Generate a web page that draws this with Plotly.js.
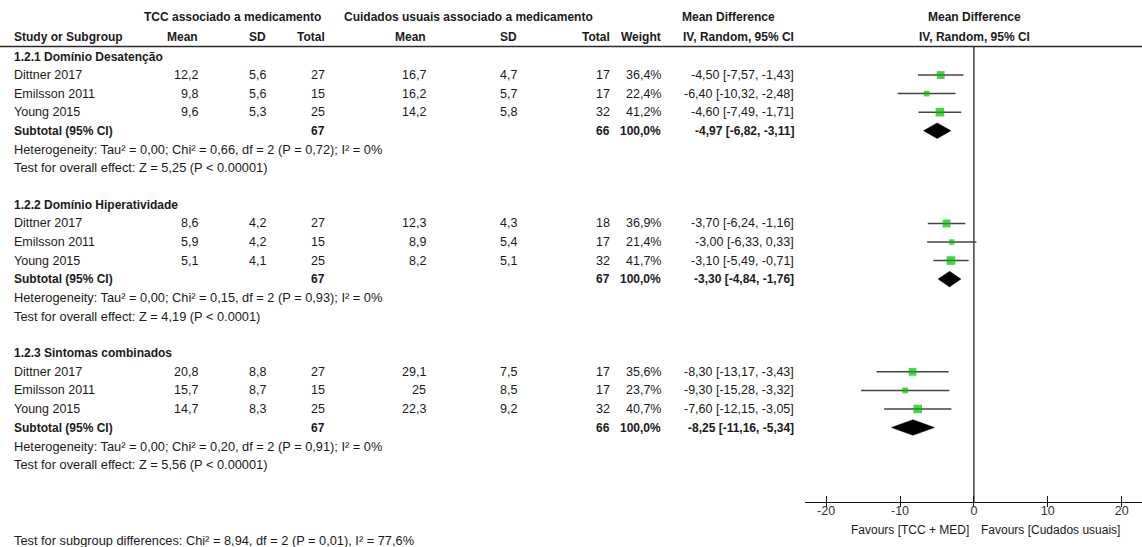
<!DOCTYPE html>
<html>
<head>
<meta charset="utf-8">
<script src="https://cdn.plot.ly/plotly-3.0.1.min.js"></script>
<style>html,body{margin:0;padding:0;background:#fff;}#chart{width:1142px;height:547px;}</style>
</head>
<body>
<div id="chart"></div>
<script>
// ---------- DATA ----------
const groupNames = ["1.2.1 Domínio Desatenção", "1.2.2 Domínio Hiperatividade", "1.2.3 Sintomas combinados"];
const studyNames = ["Dittner 2017", "Emilsson 2011", "Young 2015"];
const tccMean = [[12.2, 9.8, 9.6], [8.6, 5.9, 5.1], [20.8, 15.7, 14.7]];
const tccSD   = [[5.6, 5.6, 5.3], [4.2, 4.2, 4.1], [8.8, 8.7, 8.3]];
const tccN    = [[27, 15, 25], [27, 15, 25], [27, 15, 25]];
const cuMean  = [[16.7, 16.2, 14.2], [12.3, 8.9, 8.2], [29.1, 25, 22.3]];
const cuSD    = [[4.7, 5.7, 5.8], [4.3, 5.4, 5.1], [7.5, 8.5, 9.2]];
const cuN     = [[17, 17, 32], [18, 17, 32], [17, 17, 32]];
const weights = [[36.4, 22.4, 41.2], [36.9, 21.4, 41.7], [35.6, 23.7, 40.7]];
const mdVal   = [[-4.50, -6.40, -4.60], [-3.70, -3.00, -3.10], [-8.30, -9.30, -7.60]];
const mdLo    = [[-7.57, -10.32, -7.49], [-6.24, -6.33, -5.49], [-13.17, -15.28, -12.15]];
const mdHi    = [[-1.43, -2.48, -1.71], [-1.16, 0.33, -0.71], [-3.43, -3.32, -3.05]];
const subTccN = [67, 67, 67];
const subCuN  = [66, 67, 66];
const subMd   = [-4.97, -3.30, -8.25];
const subLo   = [-6.82, -4.84, -11.16];
const subHi   = [-3.11, -1.76, -5.34];
const hetTau2 = [0.00, 0.00, 0.00];
const hetChi2 = [0.66, 0.15, 0.20];
const hetDf   = [2, 2, 2];
const hetP    = [0.72, 0.93, 0.91];
const hetI2   = [0, 0, 0];
const zStat   = [5.25, 4.19, 5.56];
const zP      = ["< 0.00001", "< 0.0001", "< 0.00001"];
const subgroupTest = {chi2: 8.94, df: 2, p: 0.01, i2: 77.6};
const tickValues = [-20, -10, 0, 10, 20];
const tickLabels = ["-20", "-10", "0", "10", "20"];
const favoursLeft = "Favours [TCC + MED]";
const favoursRight = "Favours [Cudados usuais]";

// ---------- LAYOUT HELPERS ----------
const W = 1142, H = 547;
const ROW0 = 56.5, PITCH = 18.55, GROUP_ROWS = 8;
const pxToRow = p => (p - ROW0) / PITCH;
const xp = px => px / W;
const fmtDec = (v, d) => v.toFixed(d).replace('.', ',');
const fmtNum = v => String(v).replace('.', ',');
const FONT = "Liberation Sans, Arial, sans-serif";
const TXT = "#1a1a1a";

const annotations = [];
function ann(text, xpx, row, anchor, opts) {
  opts = opts || {};
  annotations.push({
    text: opts.bold ? "<b>" + text + "</b>" : text,
    x: xp(xpx), xref: "paper", y: row, yref: "y",
    xanchor: anchor, yanchor: "middle", showarrow: false, borderpad: 0,
    font: {family: FONT, size: opts.size || (opts.bold ? 12 : 12.5), color: opts.color || TXT}
  });
}

// column right edges (px)
const COL = {name: 13, tMean: 199, tSD: 267, tN: 326, cMean: 427, cSD: 518, cN: 611, wt: 662, ci: 795};

// header
const hr1 = pxToRow(17), hr2 = pxToRow(36.5);
ann("TCC associado a medicamento", 232.5, hr1, "center", {bold: true});
ann("Cuidados usuais associado a medicamento", 468, hr1, "center", {bold: true});
ann("Mean Difference", 728.5, hr1, "center", {bold: true});
ann("Mean Difference", 974.5, hr1, "center", {bold: true});
ann("Study or Subgroup", COL.name, hr2, "left", {bold: true});
ann("Mean", COL.tMean, hr2, "right", {bold: true});
ann("SD", COL.tSD, hr2, "right", {bold: true});
ann("Total", COL.tN, hr2, "right", {bold: true});
ann("Mean", COL.cMean, hr2, "right", {bold: true});
ann("SD", COL.cSD, hr2, "right", {bold: true});
ann("Total", COL.cN, hr2, "right", {bold: true});
ann("Weight", COL.wt, hr2, "right", {bold: true});
ann("IV, Random, 95% CI", COL.ci, hr2, "right", {bold: true});
ann("IV, Random, 95% CI", 974.5, hr2, "center", {bold: true});

const ciX = [], ciY = [];
const sqX = [], sqY = [], sqS = [];
const traces = [];

groupNames.forEach((gname, g) => {
  const base = g * GROUP_ROWS;
  ann(gname, COL.name, base, "left", {bold: true});
  studyNames.forEach((sname, i) => {
    const r = base + 1 + i;
    ann(sname, COL.name, r, "left");
    ann(fmtNum(tccMean[g][i]), COL.tMean, r, "right");
    ann(fmtNum(tccSD[g][i]), COL.tSD, r, "right");
    ann(String(tccN[g][i]), COL.tN, r, "right");
    ann(fmtNum(cuMean[g][i]), COL.cMean, r, "right");
    ann(fmtNum(cuSD[g][i]), COL.cSD, r, "right");
    ann(String(cuN[g][i]), COL.cN, r, "right");
    ann(fmtDec(weights[g][i], 1) + "%", COL.wt, r, "right");
    ann(fmtDec(mdVal[g][i], 2) + " [" + fmtDec(mdLo[g][i], 2) + ", " + fmtDec(mdHi[g][i], 2) + "]", COL.ci, r, "right");
    ciX.push(mdLo[g][i], mdHi[g][i], null);
    ciY.push(r, r, null);
    sqX.push(mdVal[g][i]); sqY.push(r); sqS.push(weights[g][i] * 0.16 + 2.0);
  });
  const rs = base + 4;
  ann("Subtotal (95% CI)", COL.name, rs, "left", {bold: true});
  ann(String(subTccN[g]), COL.tN, rs, "right", {bold: true});
  ann(String(subCuN[g]), COL.cN, rs, "right", {bold: true});
  ann("100,0%", COL.wt, rs, "right", {bold: true});
  ann(fmtDec(subMd[g], 2) + " [" + fmtDec(subLo[g], 2) + ", " + fmtDec(subHi[g], 2) + "]", COL.ci, rs, "right", {bold: true});
  ann("Heterogeneity: Tau² = " + fmtDec(hetTau2[g], 2) + "; Chi² = " + fmtDec(hetChi2[g], 2) + ", df = " + hetDf[g] +
      " (P = " + fmtDec(hetP[g], 2) + "); I² = " + hetI2[g] + "%", COL.name, base + 5, "left", {size: 12.8});
  ann("Test for overall effect: Z = " + fmtDec(zStat[g], 2) + " (P " + zP[g].replace("<", "&lt;") + ")", COL.name, base + 6, "left", {size: 12.8});
  // diamond
  const dh = 0.42;
  traces.push({
    type: "scatter", mode: "lines", x: [subLo[g], subMd[g], subHi[g], subMd[g], subLo[g]],
    y: [rs, rs - dh, rs, rs + dh, rs], fill: "toself", fillcolor: "#000",
    line: {color: "#000", width: 0.5}, showlegend: false, hoverinfo: "skip"
  });
});

ann("Test for subgroup differences: Chi² = " + fmtDec(subgroupTest.chi2, 2) + ", df = " + subgroupTest.df +
    " (P = " + fmtDec(subgroupTest.p, 2) + "), I² = " + fmtDec(subgroupTest.i2, 1) + "%", COL.name, pxToRow(540), "left", {size: 12.8});
ann(favoursLeft, 970, pxToRow(529.5), "right", {size: 12});
ann(favoursRight, 980, pxToRow(529.5), "left", {size: 12});

traces.unshift({
  type: "scatter", mode: "lines", x: ciX, y: ciY, line: {color: "#444", width: 1.5},
  showlegend: false, hoverinfo: "skip", connectgaps: false
});
traces.push({
  type: "scatter", mode: "markers", x: sqX, y: sqY,
  marker: {symbol: "square", size: sqS, color: "rgb(0,190,0)", line: {width: 0}},
  showlegend: false, hoverinfo: "skip"
});
traces.push({type: "scatter", x: [], y: [], xaxis: "x2", yaxis: "y", showlegend: false, hoverinfo: "skip"});

const AXIS_PX = 502;
const xDomain = [805 / W, 1];
const xRange = [-22.86, 22.75];
const axisPos = 1 - AXIS_PX / H;

const layout = {
  width: W, height: H, autosize: false,
  margin: {l: 0, r: 0, t: 0, b: 0, pad: 0},
  paper_bgcolor: "#fff", plot_bgcolor: "rgba(0,0,0,0)",
  showlegend: false,
  font: {family: FONT, color: TXT},
  xaxis: {
    domain: xDomain, range: xRange, anchor: "free", position: axisPos,
    showline: true, linecolor: "#111", linewidth: 1,
    ticks: "outside", ticklen: 4, tickwidth: 1, tickcolor: "#111",
    tickvals: tickValues, ticktext: tickLabels, ticklabelstandoff: -7,
    tickfont: {family: FONT, size: 12.5, color: "#333"},
    showgrid: false, zeroline: false, fixedrange: true
  },
  xaxis2: {
    domain: xDomain, range: xRange, anchor: "free", position: axisPos, overlaying: "x",
    showline: false, ticks: "inside", ticklen: 6, tickwidth: 1, tickcolor: "#111",
    tickvals: tickValues, showticklabels: false,
    showgrid: false, zeroline: false, fixedrange: true
  },
  yaxis: {
    domain: [0, 1], range: [pxToRow(H), pxToRow(0)], visible: false,
    showgrid: false, zeroline: false, fixedrange: true
  },
  shapes: [
    {type: "line", xref: "paper", x0: 0, x1: 1, yref: "y", y0: pxToRow(46.5), y1: pxToRow(46.5),
     line: {color: "#2a2a2a", width: 1.6}},
    {type: "line", xref: "x", x0: 0, x1: 0, yref: "y", y0: pxToRow(46.5), y1: pxToRow(AXIS_PX),
     line: {color: "#111", width: 1.2}, layer: "below"}
  ],
  annotations: annotations
};

Plotly.newPlot("chart", traces, layout, {displayModeBar: false, staticPlot: true});
</script>
</body>
</html>
